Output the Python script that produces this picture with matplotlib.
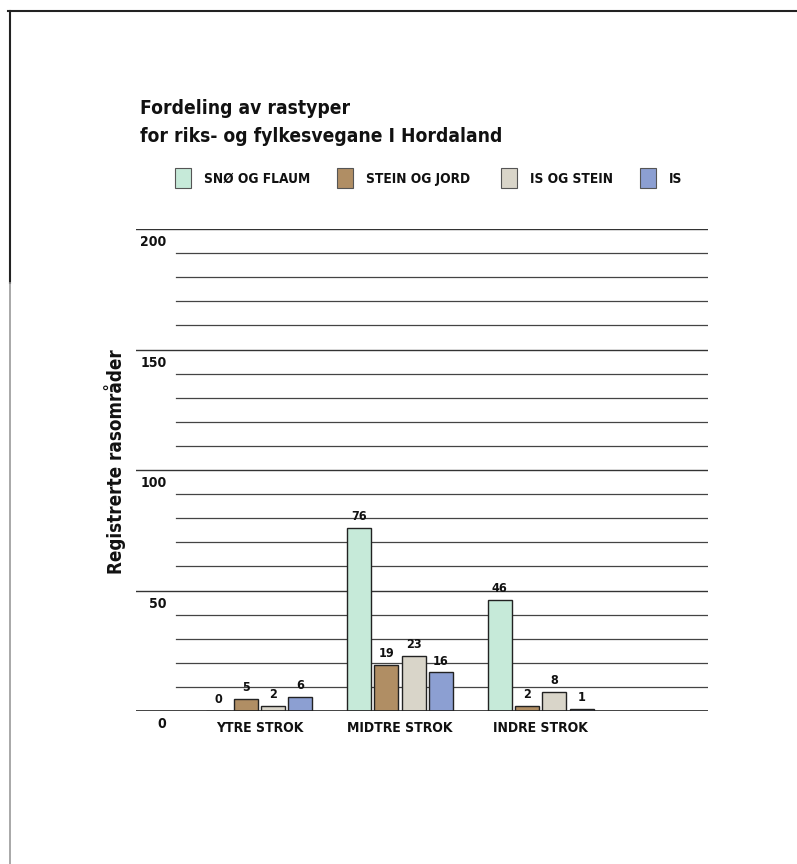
import numpy as np
import matplotlib.pyplot as plt
from matplotlib import font_manager
from matplotlib.lines import Line2D
from matplotlib.patches import Rectangle

# Rastyper per strok, riks- og fylkesvegar i Hordaland
strok = ["YTRE STROK", "MIDTRE STROK", "INDRE STROK"]
rastyper = ["SNØ OG FLAUM", "STEIN OG JORD", "IS OG STEIN", "IS"]
sno_og_flaum = [0, 76, 46]
stein_og_jord = [5, 19, 2]
is_og_stein = [2, 23, 8]
is_ = [6, 16, 1]
yticks = [0, 50, 100, 150, 200]

series = [sno_og_flaum, stein_og_jord, is_og_stein, is_]
colors = ["#c6ead9", "#b08e64", "#d9d5c9", "#8c9fd2"]

# pick a narrow bold face if one is installed
fonts = font_manager.fontManager.ttflist
narrow = [f for f in fonts if ("Narrow" in f.name or "Condensed" in f.name
                               or f.stretch in ("condensed", "semi-condensed"))]
STRETCH = "normal"
FONT = ["DejaVu Sans"]
for f in narrow:
    if "Liberation Sans Narrow" == f.name:
        FONT = ["Liberation Sans Narrow", "DejaVu Sans"]
        break
else:
    for f in narrow:
        if f.name == "DejaVu Sans" and f.stretch == "condensed":
            FONT = ["DejaVu Sans"]
            STRETCH = "condensed"
            break
    else:
        if narrow:
            FONT = [narrow[0].name, "DejaVu Sans"]
            STRETCH = narrow[0].stretch

TXT = dict(family=FONT, fontweight="bold", fontstretch=STRETCH, color="#111111")

W, H = 797, 864
fig = plt.figure(figsize=(W / 100, H / 100), dpi=100)
fig.patch.set_facecolor("white")


def fx(px):
    return px / W


def fy(py):
    return 1 - py / H


ax = fig.add_axes([fx(136), fy(711), fx(708) - fx(136), fy(229) - fy(711)])
ax.set_xlim(-0.876, 3.188)
ax.set_ylim(0, 200)
ax.axis("off")

# gridlines: long ones at labelled ticks, shorter in between
for v in range(10, 201, 10):
    if v % 50 == 0:
        ax.axhline(v, xmin=0, xmax=1, color="#333333", lw=1.0, zorder=1)
    else:
        ax.axhline(v, xmin=0.07, xmax=1, color="#444444", lw=0.9, zorder=1)
ax.axhline(0, xmin=0, xmax=1, color="#222222", lw=1.2, zorder=3)

pitch = 0.194
width = 0.17
x = np.arange(len(strok))
for i, (vals, c) in enumerate(zip(series, colors)):
    pos = x + (i - 1.5) * pitch
    ax.bar(pos, vals, width=width, color=c, edgecolor="#222222",
           linewidth=1.0, zorder=2)
    for p, v in zip(pos, vals):
        ax.text(p, v + 2.0, str(v), ha="center", va="bottom", fontsize=9,
                zorder=4, **TXT)

for xi, name in zip(x, strok):
    ax.text(xi, -4.0, name, ha="center", va="top", fontsize=10, **TXT)

for v in yticks:
    ax.text(-0.66, v - 2.5, str(v), ha="right", va="top", fontsize=10, **TXT)

fig.text(fx(115), fy(462), "Registrerte rasområder", rotation=90,
         ha="center", va="center", fontsize=13.5, **TXT)

fig.text(fx(140), fy(108), "Fordeling av rastyper", ha="left", va="center",
         fontsize=13.8, **TXT)
fig.text(fx(140), fy(137), "for riks- og fylkesvegane I Hordaland",
         ha="left", va="center", fontsize=13.8, **TXT)

# legend row
leg_x = [175, 337, 501, 640]
for lx, name, c in zip(leg_x, rastyper, colors):
    fig.patches.append(Rectangle((fx(lx), fy(188)), fx(16), fy(168) - fy(188),
                                 transform=fig.transFigure, facecolor=c,
                                 edgecolor="#555555", lw=0.8))
    fig.text(fx(lx + 29), fy(179), name, ha="left", va="center", fontsize=9.8,
             **TXT)

# page border
fig.lines.append(Line2D([fx(8), 1], [fy(11), fy(11)], transform=fig.transFigure,
                        color="#222222", lw=1.5))
fig.lines.append(Line2D([fx(10), fx(10)], [fy(11), fy(283)],
                        transform=fig.transFigure, color="#222222", lw=1.5))
fig.lines.append(Line2D([fx(10), fx(10)], [fy(283), 0],
                        transform=fig.transFigure, color="#999999", lw=1.2))

fig.savefig("out.png", dpi=100, facecolor="white")
